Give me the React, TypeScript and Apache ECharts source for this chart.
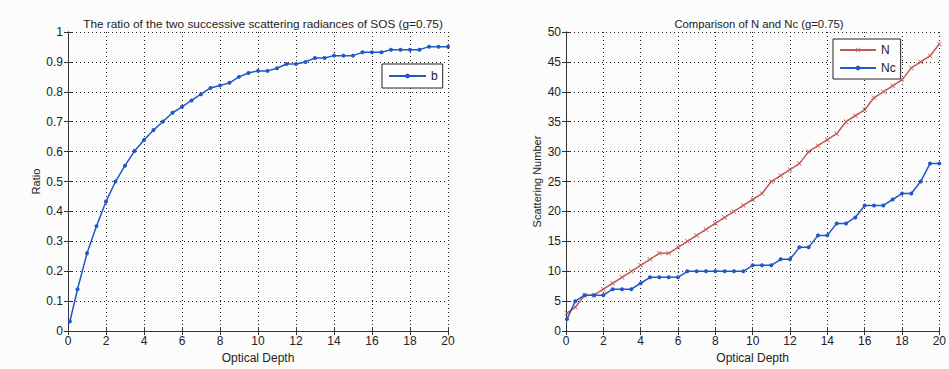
import React, { useEffect, useRef } from "react";
import * as echarts from "echarts";

const ratioDepth = [0.1, 0.5, 1, 1.5, 2, 2.5, 3, 3.5, 4, 4.5, 5, 5.5, 6, 6.5, 7, 7.5, 8, 8.5, 9, 9.5, 10, 10.5, 11, 11.5, 12, 12.5, 13, 13.5, 14, 14.5, 15, 15.5, 16, 16.5, 17, 17.5, 18, 18.5, 19, 19.5, 20];
const ratioB = [0.032, 0.14, 0.26, 0.351, 0.433, 0.5, 0.553, 0.602, 0.639, 0.672, 0.701, 0.73, 0.75, 0.771, 0.792, 0.813, 0.821, 0.83, 0.85, 0.863, 0.87, 0.87, 0.879, 0.893, 0.893, 0.9, 0.913, 0.913, 0.921, 0.921, 0.921, 0.932, 0.932, 0.932, 0.941, 0.941, 0.941, 0.941, 0.951, 0.951, 0.951];

const countDepth = [0.05, 0.5, 1, 1.5, 2, 2.5, 3, 3.5, 4, 4.5, 5, 5.5, 6, 6.5, 7, 7.5, 8, 8.5, 9, 9.5, 10, 10.5, 11, 11.5, 12, 12.5, 13, 13.5, 14, 14.5, 15, 15.5, 16, 16.5, 17, 17.5, 18, 18.5, 19, 19.5, 20];
const countN = [3, 4, 6, 6, 7, 8, 9, 10, 11, 12, 13, 13, 14, 15, 16, 17, 18, 19, 20, 21, 22, 23, 25, 26, 27, 28, 30, 31, 32, 33, 35, 36, 37, 39, 40, 41, 42, 44, 45, 46, 48];
const countNc = [2, 5, 6, 6, 6, 7, 7, 7, 8, 9, 9, 9, 9, 10, 10, 10, 10, 10, 10, 10, 11, 11, 11, 12, 12, 14, 14, 16, 16, 18, 18, 19, 21, 21, 21, 22, 23, 23, 25, 28, 28];

const xTicks = { min: 0, max: 20, interval: 2 };

const FONT = "Liberation Sans";
const BLUE = "#1f58c8";
const RED = "#c25a55";
const CROSS = "path://M0,1L1,0L5,4L9,0L10,1L6,5L10,9L9,10L5,6L1,10L0,9L4,5Z";

export default function App() {
  const ref = useRef<HTMLDivElement>(null);
  useEffect(() => {
    if (!ref.current) return;
    const chart = echarts.init(ref.current, undefined, { renderer: "svg" });
    const txt = { fontFamily: FONT, fontSize: 11, color: "#222" };
    const axisLine = { show: true, lineStyle: { color: "#333", width: 1 } };
    const mkX = (gi: number, withName: boolean, pos: "bottom" | "top") => ({
      type: "value",
      gridIndex: gi,
      position: pos,
      ...xTicks,
      name: withName ? "Optical Depth" : "",
      nameLocation: "middle",
      nameGap: 18,
      nameTextStyle: { ...txt, fontSize: 12 },
      axisLine,
      axisTick: { show: true, inside: true, length: 4, lineStyle: { color: "#333" } },
      axisLabel: { show: withName, ...txt, fontSize: 12, margin: 4 },
      splitLine: withName ? { show: true, lineStyle: { color: "#222", type: [1, 3], width: 1 } } : { show: false },
    });
    const mkY = (gi: number, name: string, max: number, interval: number, withName: boolean, pos: "left" | "right", gap: number) => ({
      type: "value",
      gridIndex: gi,
      position: pos,
      min: 0,
      max,
      interval,
      name: withName ? name : "",
      nameLocation: "middle",
      nameGap: gap,
      nameTextStyle: { ...txt, fontSize: 11 },
      axisLine,
      axisTick: { show: true, inside: true, length: 4, lineStyle: { color: "#333" } },
      axisLabel: { show: withName, ...txt, fontSize: 12, margin: 5 },
      splitLine: withName ? { show: true, lineStyle: { color: "#222", type: [1, 3], width: 1 } } : { show: false },
    });
    chart.setOption({
      animation: false,
      backgroundColor: "#fcfcfd",
      textStyle: { fontFamily: FONT },
      title: [
        { text: "The ratio of the two successive scattering radiances of SOS (g=0.75)", left: 258, top: 13, textAlign: "center", textStyle: { ...txt, fontSize: 11.8, fontWeight: "normal" } },
        { text: "Comparison of N and Nc (g=0.75)", left: 754, top: 13, textAlign: "center", textStyle: { ...txt, fontSize: 11.3, fontWeight: "normal" } },
      ],
      grid: [
        { left: 68, top: 32, width: 380, height: 301 },
        { left: 566, top: 32, width: 379, height: 301 },
      ],
      xAxis: [mkX(0, true, "bottom"), mkX(0, false, "top"), mkX(1, true, "bottom"), mkX(1, false, "top")],
      yAxis: [
        mkY(0, "Ratio", 1, 0.1, true, "left", 27),
        mkY(0, "", 1, 0.1, false, "right", 0),
        mkY(1, "Scattering Number", 50, 5, true, "left", 24),
        mkY(1, "", 50, 5, false, "right", 0),
      ],
      legend: [
        {
          data: ["b"], left: 382, top: 64, orient: "vertical",
          itemWidth: 37, itemHeight: 6, itemGap: 4, padding: [6, 5, 6, 6],
          borderColor: "#222", borderWidth: 1, backgroundColor: "#fff",
          textStyle: { ...txt, fontSize: 12 },
        },
        {
          data: ["N", "Nc"], left: 833, top: 39, orient: "vertical",
          itemWidth: 36, itemHeight: 6, itemGap: 6, padding: [5, 5, 5, 6],
          borderColor: "#222", borderWidth: 1, backgroundColor: "#fff",
          textStyle: { ...txt, fontSize: 12 },
        },
      ],
      series: [
        {
          name: "b", type: "line", xAxisIndex: 0, yAxisIndex: 0,
          data: ratioDepth.map((d, i) => [d, ratioB[i]]),
          symbol: "circle", symbolSize: 4, showSymbol: true,
          lineStyle: { color: BLUE, width: 1.5 }, itemStyle: { color: BLUE },
        },
        {
          name: "N", type: "line", xAxisIndex: 2, yAxisIndex: 2,
          data: countDepth.map((d, i) => [d, countN[i]]),
          symbol: CROSS, symbolSize: 5, showSymbol: true,
          lineStyle: { color: RED, width: 1.5 }, itemStyle: { color: RED },
        },
        {
          name: "Nc", type: "line", xAxisIndex: 2, yAxisIndex: 2,
          data: countDepth.map((d, i) => [d, countNc[i]]),
          symbol: "circle", symbolSize: 4, showSymbol: true,
          lineStyle: { color: BLUE, width: 1.5 }, itemStyle: { color: BLUE },
        },
      ],
    });
    return () => chart.dispose();
  }, []);
  return <div ref={ref} style={{ position: "fixed", left: 0, top: 0, width: 949, height: 369 }} />;
}
